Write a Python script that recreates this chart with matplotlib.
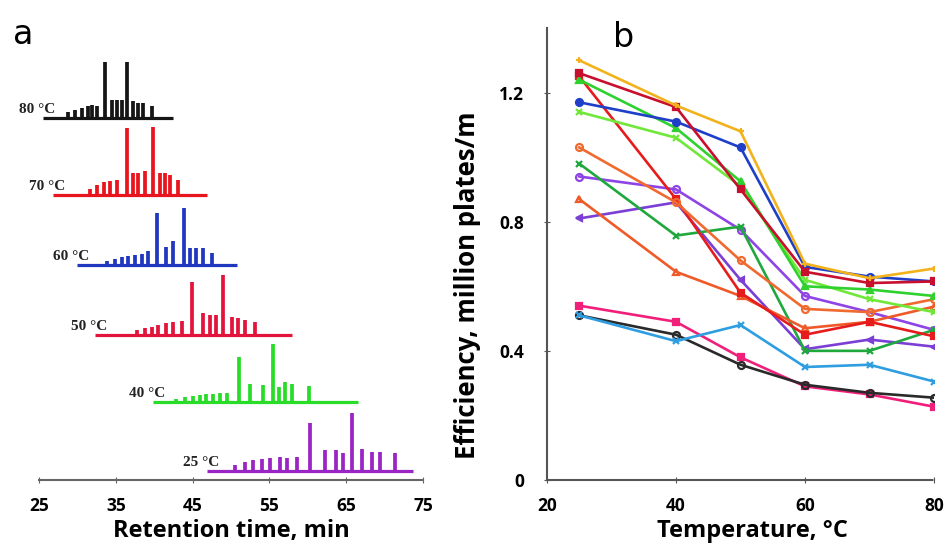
import matplotlib
matplotlib.use("Agg")
import matplotlib.pyplot as plt

# ---- panel a: chromatograms at six column temperatures ----
trace_labels = ["80 °C", "70 °C", "60 °C", "50 °C", "40 °C", "25 °C"]
trace_colors = ["#151515", "#e8141e", "#2038c0", "#e2143c", "#28dc28", "#9a24c4"]
trace_offsets = [362, 285, 215, 145, 78, 9]
baseline_start = [25.5, 26.8, 29.9, 32.3, 39.8, 46.9]
baseline_end = [42.4, 46.9, 50.8, 57.9, 66.5, 73.7]

peaks_80_t = [28.8, 29.7, 30.6, 31.4, 31.9, 32.6, 33.6, 34.5, 35.1, 35.8, 36.4, 37.3, 37.9, 38.6, 39.7]
peaks_80_h = [6, 8, 10, 12, 13, 12, 56, 18, 18, 18, 56, 17, 15, 15, 12]
peaks_70_t = [31.6, 32.5, 33.4, 34.2, 35.1, 36.4, 37.3, 37.9, 38.8, 39.8, 40.8, 41.4, 42.1, 43.1]
peaks_70_h = [6, 10, 13, 14, 15, 67, 22, 22, 24, 68, 22, 22, 20, 15]
peaks_60_t = [33.8, 34.9, 35.8, 36.6, 37.5, 38.4, 39.2, 40.3, 41.6, 42.5, 43.9, 44.7, 45.5, 46.4, 47.5]
peaks_60_h = [4, 6, 8, 9, 10, 11, 14, 52, 18, 24, 57, 17, 17, 17, 12]
peaks_50_t = [37.7, 38.8, 39.7, 40.5, 41.6, 42.5, 43.6, 44.9, 46.4, 47.3, 48.1, 48.9, 50.1, 50.9, 51.8, 53.1]
peaks_50_h = [5, 7, 8, 10, 12, 13, 14, 53, 22, 20, 20, 60, 18, 17, 15, 13]
peaks_40_t = [42.9, 44.0, 45.1, 46.0, 46.8, 47.7, 48.6, 49.5, 51.0, 52.5, 54.2, 55.5, 56.2, 57.0, 57.9, 60.1]
peaks_40_h = [3, 5, 6, 7, 8, 8, 9, 9, 45, 18, 17, 58, 15, 20, 18, 16]
peaks_25_t = [50.5, 51.8, 52.9, 54.0, 55.1, 56.4, 57.3, 58.6, 60.3, 62.2, 63.7, 64.6, 65.8, 67.0, 68.3, 69.4, 71.4]
peaks_25_h = [6, 9, 11, 12, 13, 14, 13, 14, 48, 21, 21, 18, 58, 22, 19, 19, 18]

peak_times = [peaks_80_t, peaks_70_t, peaks_60_t, peaks_50_t, peaks_40_t, peaks_25_t]
peak_heights = [peaks_80_h, peaks_70_h, peaks_60_h, peaks_50_h, peaks_40_h, peaks_25_h]
rt_ticks = [25, 35, 45, 55, 65, 75]

# ---- panel b: column efficiency vs temperature ----
temps = [25, 40, 50, 60, 70, 80]
eff_gold = [1.30, 1.16, 1.08, 0.67, 0.625, 0.655]
eff_darkred = [1.26, 1.155, 0.90, 0.645, 0.61, 0.615]
eff_blue = [1.17, 1.11, 1.03, 0.66, 0.63, 0.615]
eff_green = [1.24, 1.09, 0.925, 0.60, 0.59, 0.57]
eff_lime = [1.14, 1.06, 0.91, 0.62, 0.56, 0.52]
eff_orange = [1.03, 0.86, 0.68, 0.53, 0.52, 0.56]
eff_red = [1.25, 0.87, 0.58, 0.45, 0.49, 0.445]
eff_orangered = [0.87, 0.645, 0.57, 0.47, 0.49, 0.537]
eff_darkgreen = [0.98, 0.757, 0.785, 0.40, 0.40, 0.465]
eff_violet = [0.94, 0.90, 0.775, 0.57, 0.52, 0.465]
eff_purple = [0.81, 0.86, 0.62, 0.405, 0.435, 0.413]
eff_skyblue = [0.51, 0.43, 0.48, 0.35, 0.357, 0.305]
eff_pink = [0.54, 0.49, 0.38, 0.29, 0.265, 0.227]
eff_black = [0.51, 0.45, 0.357, 0.295, 0.27, 0.255]

series = [
    (eff_pink, "#f0207a", "s", "#f0207a"),
    (eff_black, "#2a2a2a", "o", "none"),
    (eff_skyblue, "#2f9ee0", "x", "#2f9ee0"),
    (eff_purple, "#7b3fd6", "<", "#7b3fd6"),
    (eff_violet, "#8f44e6", "o", "none"),
    (eff_darkgreen, "#1fa83c", "x", "#1fa83c"),
    (eff_orangered, "#f05a28", "^", "none"),
    (eff_red, "#e61c1c", "s", "#e61c1c"),
    (eff_orange, "#f06a30", "o", "none"),
    (eff_lime, "#6fe83a", "x", "#6fe83a"),
    (eff_green, "#2ed12e", "^", "#2ed12e"),
    (eff_blue, "#1f3fc8", "o", "#1f3fc8"),
    (eff_darkred, "#c8102e", "s", "#c8102e"),
    (eff_gold, "#f2b21c", "+", "#f2b21c"),
]

bold = dict(family="Open Sans", weight="bold")
fig = plt.figure(figsize=(9.48, 5.46), dpi=100)

# panel a
axa = fig.add_axes([39 / 948, 1 - 480 / 546, 384 / 948, 440 / 546])
for lab, col, off, t0, t1, pt, ph in zip(trace_labels, trace_colors, trace_offsets,
                                         baseline_start, baseline_end, peak_times, peak_heights):
    axa.hlines(off, t0, t1, color=col, lw=2.3)
    axa.vlines(pt, off, [off + h for h in ph], color=col, lw=2.7)
    axa.text(t0 + 1.6, off + 2, lab, ha="right", va="bottom", fontsize=11,
             family="Liberation Serif", weight="bold", color="#222222")
axa.set_xlim(25, 75)
axa.set_ylim(0, 440)
axa.set_xticks(rt_ticks)
axa.set_yticks([])
for s in ["top", "right", "left"]:
    axa.spines[s].set_visible(False)
axa.spines["bottom"].set_color("#666666")
axa.spines["bottom"].set_linewidth(1.5)
axa.spines["bottom"].set_linestyle((0, (2, 1)))
axa.tick_params(axis="x", direction="inout", length=5, color="#666666", pad=10, labelsize=12.5)
for t in axa.get_xticklabels():
    t.set_fontfamily("Open Sans"); t.set_fontweight("bold")
axa.set_xlabel("Retention time, min", fontsize=17, **bold)
axa.xaxis.set_label_coords(0.5, -0.088)
fig.text(13 / 948, 1 - 44 / 546, "a", fontsize=24, family="DejaVu Sans")

# panel b
axb = fig.add_axes([547 / 948, 1 - 480 / 546, 387 / 948, 452 / 546])
for vals, col, mk, mfc in series:
    axb.plot(temps, vals, color=col, lw=1.9, marker=mk, ms=5, mfc=mfc, mec=col, mew=1.6)
axb.set_xlim(20, 80)
axb.set_ylim(0, 1.40)
axb.set_xticks([20, 40, 60, 80])
axb.set_yticks([0, 0.4, 0.8, 1.2])
axb.set_yticklabels(["0", "0.4", "0.8", "1.2"])
for s in ["top", "right"]:
    axb.spines[s].set_visible(False)
for s in ["left", "bottom"]:
    axb.spines[s].set_color("#555555")
    axb.spines[s].set_linewidth(1.5)
axb.spines["bottom"].set_linestyle((0, (2, 1)))
axb.tick_params(axis="both", direction="inout", length=5, color="#555555", labelsize=12.5)
axb.tick_params(axis="x", pad=10)
axb.tick_params(axis="y", pad=14)
for t in axb.get_xticklabels() + axb.get_yticklabels():
    t.set_fontfamily("Open Sans"); t.set_fontweight("bold")
axb.set_xlabel("Temperature, °C", fontsize=17, **bold)
axb.xaxis.set_label_coords(0.53, -0.086)
axb.set_ylabel("Efficiency, million plates/m", fontsize=18.5, **bold)
axb.yaxis.set_label_coords(-0.17, 0.43)
fig.text(613 / 948, 1 - 47 / 546, "b", fontsize=24, family="DejaVu Sans")

fig.savefig("out.png", dpi=100)
